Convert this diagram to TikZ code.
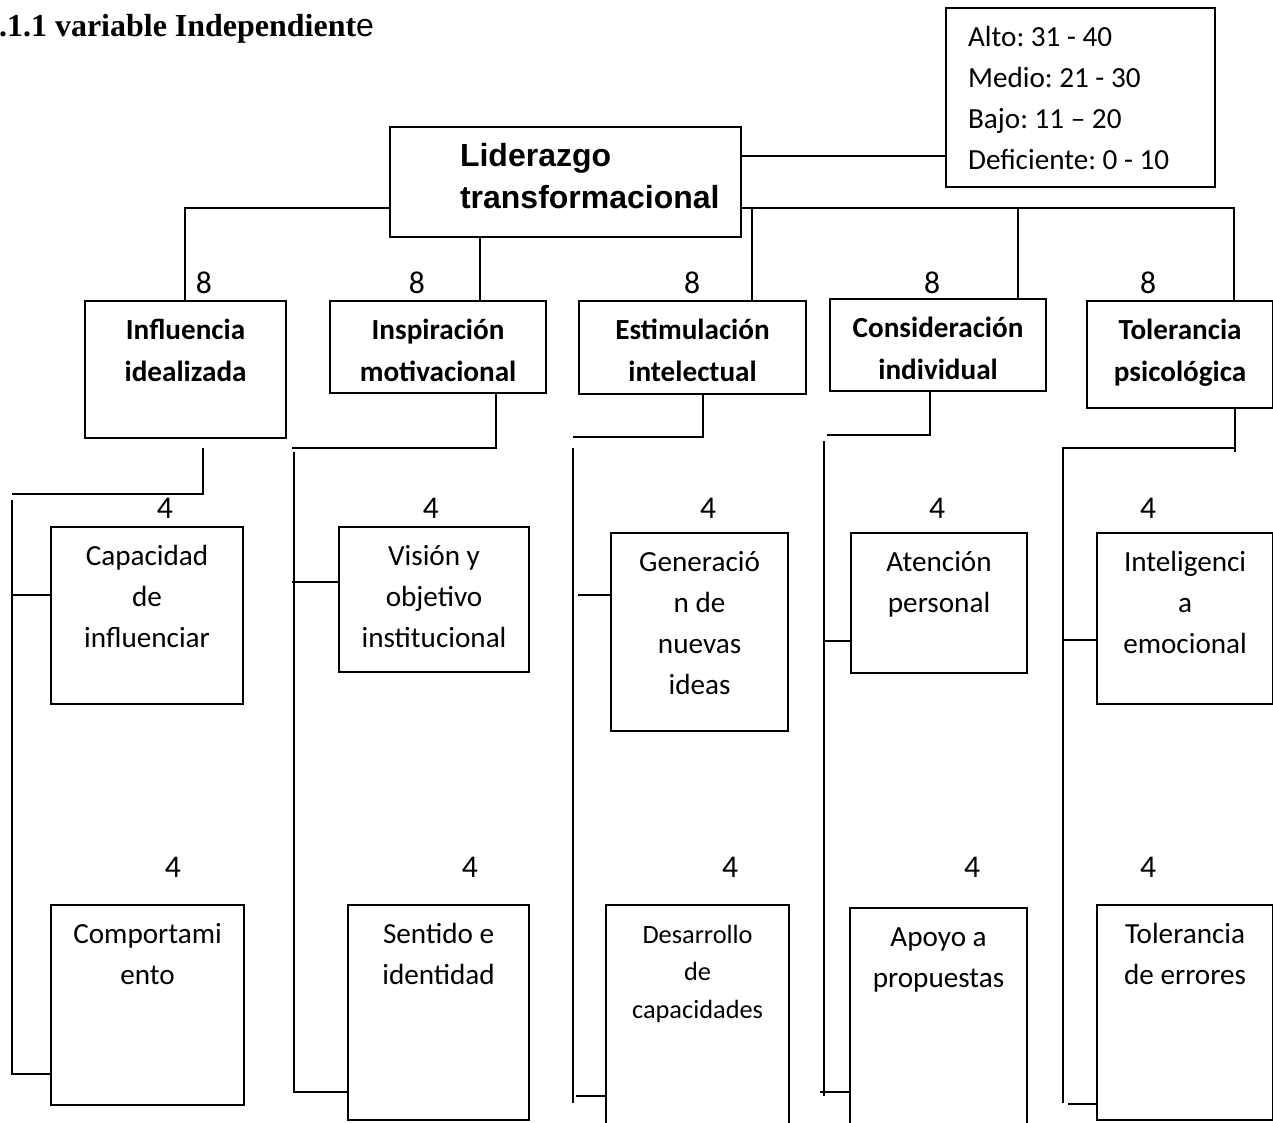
\documentclass[tikz,border=0pt]{standalone}
\usepackage{fontspec}
\setmainfont{Carlito}
\newfontfamily\arialfont{Liberation Sans}
\newfontfamily\romanfont{Liberation Serif}

\begin{document}
\begin{tikzpicture}[x=0.1mm, y=-0.1mm, line width=0.6pt,
    caja/.style={draw, anchor=north west, inner xsep=0pt, inner ysep=0pt, align=center,
      text height=3.8mm, font=\fontsize{8.3}{11.7}\selectfont,
      execute at begin node={\spaceskip=\fontdimen2\font\xspaceskip=\fontdimen2\font\frenchspacing}},
    dim/.style={font=\bfseries\fontsize{8.3}{12}\selectfont},
    num/.style={anchor=base, inner sep=0pt, font=\fontsize{9}{11}\selectfont}]
    \useasboundingbox (0,0) rectangle (1273,1122);

    \node[anchor=base west, inner sep=0pt, font=\romanfont\bfseries\fontsize{9.1}{11}\selectfont] (titulo) at (-2,37) {.1.1 variable Independient{\arialfont\mdseries e}};

    \node[caja, align=left, inner xsep=2.2mm, text width=22.5mm, text depth=14.1mm] (leyenda) at (945,7) {Alto: 31 - 40\\Medio: 21 - 30\\Bajo: 11 – 20\\Deficiente: 0 - 10};
    \node[caja, align=left, text width=35.1mm, text height=3.9mm, text depth=7.1mm, font=\arialfont\bfseries\fontsize{9.1}{12.2}\selectfont] (lider) at (389,126) {\hspace*{7mm}Liderazgo\\\hspace*{7mm}transformacional};

    \node[caja, dim, text width=20.1mm, text depth=9.9mm] (b1) at (84,300) {Influencia\\idealizada};
    \node[caja, dim, text width=21.6mm, text depth=5.4mm] (b2) at (329,300) {Inspiración\\motivacional};
    \node[caja, dim, text width=22.7mm, text depth=5.5mm] (b3) at (578,300) {Estimulación\\intelectual};
    \node[caja, dim, text width=21.6mm, text depth=5.4mm] (b4) at (829,298) {Consideración\\individual};
    \node[caja, dim, text width=18.6mm, text depth=6.9mm] (b5) at (1086,300) {Tolerancia\\psicológica};

    \node[caja, text width=19.2mm, text depth=13.9mm] (c1) at (50,526) {Capacidad\\de\\influenciar};
    \node[caja, text width=19.0mm, text depth=10.7mm] (c2) at (338,526) {Visión y\\objetivo\\institucional};
    \node[caja, text width=17.7mm, text depth=16.0mm] (c3) at (610,532) {Generació\\n de\\nuevas\\ideas};
    \node[caja, text width=17.6mm, text depth=10.2mm] (c4) at (850,532) {Atención\\personal};
    \node[caja, text width=17.6mm, text depth=13.3mm] (c5) at (1096,532) {Inteligenci\\a\\emocional};

    \node[caja, text width=19.3mm, text depth=16.2mm] (d1) at (50,904) {Comportami\\ento};
    \node[caja, text width=18.1mm, text depth=17.7mm] (d2) at (347,904) {Sentido e\\identidad};
    \node[caja, text width=18.3mm, text depth=19.3mm, font=\fontsize{7.5}{10.7}\selectfont] (d3) at (605,904) {Desarrollo\\de\\capacidades};
    \node[caja, text width=17.7mm, text depth=19.0mm] (d4) at (849,907) {Apoyo a\\propuestas};
    \node[caja, text width=17.6mm, text depth=17.7mm] (d5) at (1096,904) {Tolerancia\\de errores};

    \node[num] (n1) at (204,293) {8};
    \node[num] (n2) at (417,293) {8};
    \node[num] (n3) at (692,293) {8};
    \node[num] (n4) at (932,293) {8};
    \node[num] (n5) at (1148,293) {8};
    \node[num] (m1) at (165,518) {4};
    \node[num] (m2) at (431,518) {4};
    \node[num] (m3) at (708,518) {4};
    \node[num] (m4) at (937,518) {4};
    \node[num] (m5) at (1148,518) {4};
    \node[num] (k1) at (173,877) {4};
    \node[num] (k2) at (470,877) {4};
    \node[num] (k3) at (730,877) {4};
    \node[num] (k4) at (972,877) {4};
    \node[num] (k5) at (1148,877) {4};

    \coordinate (j1) at (185,208);
    \coordinate (j2) at (480,0);
    \coordinate (j3) at (1234,208);
    \coordinate (j4) at (752,208);
    \coordinate (j5) at (1018,208);
    \coordinate (j6) at (0,156);
    \draw (lider.west |- j1) -- (j1) -- (b1.north -| j1);
    \draw (lider.south -| j2) -- (b2.north -| j2);
    \draw (lider.east |- j3) -- (j3) -- (b5.north -| j3);
    \draw (j4) -- (b3.north -| j4);
    \draw (j5) -- (b4.north -| j5);
    \draw (lider.east |- j6) -- (leyenda.west |- j6);

    \coordinate (p1) at (203,448);
    \coordinate (q1) at (12,494);
    \coordinate (r1) at (12,500);
    \coordinate (s1) at (12,595);
    \coordinate (t1) at (12,1074);
    \draw (p1) |- (q1);
    \draw (r1) -- (t1) -- (d1.west |- t1);
    \draw (s1) -- (c1.west |- s1);

    \coordinate (p2) at (496,0);
    \coordinate (q2) at (292,448);
    \coordinate (r2) at (294,452);
    \coordinate (s2) at (292,582);
    \coordinate (t2) at (294,1092);
    \draw (b2.south -| p2) |- (q2);
    \draw (r2) -- (t2) -- (d2.west |- t2);
    \draw (s2) -- (c2.west |- s2);

    \coordinate (p3) at (703,0);
    \coordinate (q3) at (573,437);
    \coordinate (r3) at (573,448);
    \coordinate (s3) at (578,595);
    \coordinate (t3) at (573,1103);
    \coordinate (u3) at (576,1096);
    \draw (b3.south -| p3) |- (q3);
    \draw (r3) -- (t3);
    \draw (s3) -- (c3.west |- s3);
    \draw (u3) -- (d3.west |- u3);

    \coordinate (p4) at (930,0);
    \coordinate (q4) at (827,435);
    \coordinate (r4) at (824,441);
    \coordinate (s4) at (824,641);
    \coordinate (t4) at (824,1096);
    \coordinate (u4) at (820,1092);
    \draw (b4.south -| p4) |- (q4);
    \draw (r4) -- (t4);
    \draw (s4) -- (c4.west |- s4);
    \draw (u4) -- (d4.west |- u4);

    \coordinate (p5) at (1235,452);
    \coordinate (q5) at (1063,448);
    \coordinate (s5) at (1063,640);
    \coordinate (t5) at (1063,1103);
    \coordinate (u5) at (1068,1104);
    \draw (b5.south -| p5) -- (p5);
    \draw (p5 |- q5) -- (q5) -- (t5);
    \draw (s5) -- (c5.west |- s5);
    \draw (u5) -- (d5.west |- u5);
  \end{tikzpicture}
\end{document}
